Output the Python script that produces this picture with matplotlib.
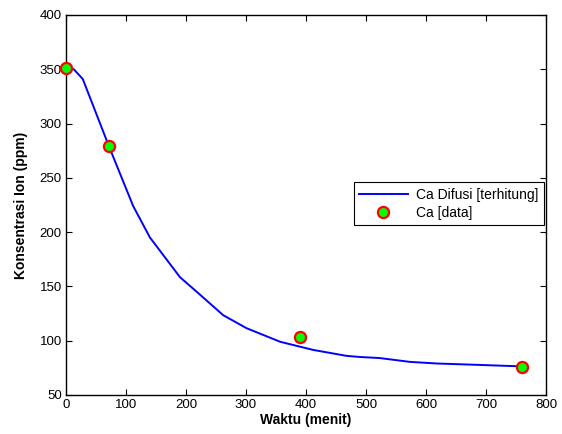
import matplotlib
matplotlib.use("Agg")
import matplotlib.pyplot as plt
import numpy as np

plt.rcParams['font.family'] = ['Liberation Sans', 'DejaVu Sans']

# computed diffusion curve
t_calc = [0, 13, 28, 72, 112, 140, 190, 218, 262, 301, 357, 412, 468, 490, 523, 573, 618, 673, 751]
ca_calc = [351.5, 350, 341, 278.5, 224, 195, 158.5, 145, 123.5, 111.5, 99, 91.5, 86, 85, 84, 80.5, 79, 78, 76.5]

# measured data
t_data = [0, 72, 390, 760]
ca_data = [351.5, 279.5, 103, 75.5]

xticks = np.arange(0, 801, 100)
yticks = np.arange(50, 401, 50)

fig = plt.figure(figsize=(5.62, 4.34), dpi=100)
ax = fig.add_axes([0.1174, 0.0899, 0.8541, 0.8756])

ax.plot(t_calc, ca_calc, color='#0000ff', linewidth=1.4, label='Ca Difusi [terhitung]')
ax.plot(t_data, ca_data, linestyle='none', marker='o', markersize=8,
        markerfacecolor='#00ff00', markeredgecolor='#ff0000', markeredgewidth=1.6,
        label='Ca [data]', clip_on=False, zorder=5)

ax.set_xlim([0, 800])
ax.set_ylim([50, 400])
ax.set_xticks(xticks)
ax.set_yticks(yticks)
ax.tick_params(direction='in', length=4, width=0.8, top=True, right=True, labelsize=9.5, pad=3)
for s in ax.spines.values():
  s.set_linewidth(1.0)

ax.set_xlabel("Waktu (menit)", fontsize=10, fontweight='bold', labelpad=1)
ax.set_ylabel("Konsentrasi Ion (ppm)", fontsize=10, fontweight='bold', labelpad=8)

leg = ax.legend(loc='upper right', bbox_to_anchor=(0.996, 0.56), fontsize=10,
                fancybox=False, edgecolor='black', framealpha=1, borderaxespad=0,
                handlelength=3.5, borderpad=0.4, labelspacing=0.3, handletextpad=0.6)
leg.get_frame().set_linewidth(0.8)

plt.savefig("out.png", dpi=100)
